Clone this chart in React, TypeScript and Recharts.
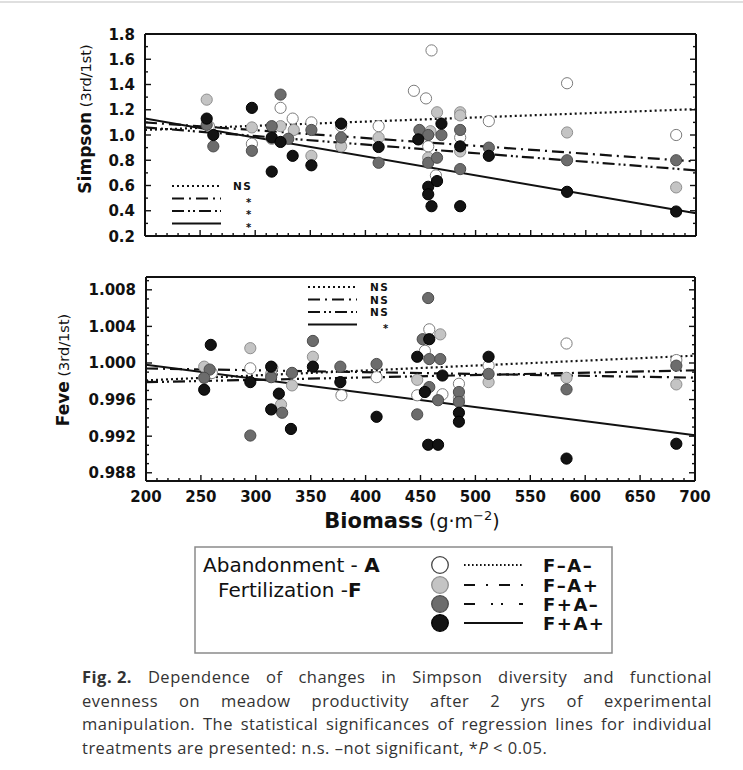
import React from 'react';
import { ComposedChart, Scatter, Line, XAxis, YAxis } from 'recharts';

type Pt = [number, number];

// axis labels
const xMajor = [200, 250, 300, 350, 400, 450, 500, 550, 600, 650, 700];
const simpsonMajor = [0.2, 0.4, 0.6, 0.8, 1.0, 1.2, 1.4, 1.6, 1.8];
const feveMajor = [0.988, 0.992, 0.996, 1.0, 1.004, 1.008];

const treatments = ['F–A–', 'F–A+', 'F+A–', 'F+A+'];
const simpsonSignif = ['NS', '*', '*', '*'];
const feveSignif = ['NS', 'NS', 'NS', '*'];

// Simpson (3rd/1st) vs biomass
const simpsonFmAm: Pt[] = [
  [258, 1.07], [297, 0.93], [323, 1.215], [334, 1.13], [351, 1.1], [378, 1.07], [412, 1.07],
  [444, 1.35], [455, 1.29], [460, 1.67], [457, 0.91], [464, 0.68], [486, 0.98], [512, 1.11],
  [583, 1.41], [682, 1.0],
];
const simpsonFmAp: Pt[] = [
  [256, 1.28], [297, 1.06], [323, 1.07], [315, 0.97], [335, 1.04], [351, 0.835], [378, 0.91],
  [412, 0.98], [465, 1.18], [457, 0.82], [459, 1.03], [486, 1.18], [486, 1.155], [486, 0.87],
  [583, 1.02], [682, 0.585],
];
const simpsonFpAm: Pt[] = [
  [262, 0.91], [256, 1.08], [297, 0.875], [323, 1.32], [315, 1.07], [330, 0.97], [351, 1.04],
  [378, 0.98], [412, 0.78], [449, 1.04], [457, 1.0], [469, 1.0], [457, 0.78], [465, 0.82],
  [486, 1.04], [486, 0.73], [512, 0.9], [583, 0.8], [682, 0.8],
];
const simpsonFpAp: Pt[] = [
  [256, 1.13], [262, 1.0], [297, 1.215], [315, 0.98], [323, 0.945], [315, 0.71], [334, 0.835],
  [351, 0.76], [378, 1.09], [412, 0.905], [448, 0.965], [469, 1.09], [457, 0.59], [457, 0.53],
  [465, 0.635], [460, 0.436], [486, 0.91], [486, 0.436], [512, 0.835], [583, 0.55], [682, 0.394],
];

// Feve (3rd/1st) vs biomass
const feveFmAm: Pt[] = [
  [260, 0.9989], [295, 0.99942], [315, 0.9995], [378, 0.99647], [410, 0.99845], [447, 0.99647],
  [454, 1.00133], [458, 1.00368], [470, 0.99658], [485, 0.99773], [512, 0.99971], [583, 1.00213],
  [683, 1.00032],
];
const feveFmAp: Pt[] = [
  [253, 0.9996], [295, 1.00162], [314, 0.99881], [323, 0.99546], [333, 0.99755], [352, 1.00068],
  [447, 0.99816], [468, 1.00313], [485, 0.9962], [512, 0.99791], [583, 0.99838], [683, 0.99766],
];
const feveFpAm: Pt[] = [
  [258, 0.99928], [253, 0.99838], [295, 0.99207], [314, 0.99845], [324, 0.99456], [333, 0.99892],
  [352, 1.00241], [377, 0.9996], [410, 0.99989], [447, 0.99438], [457, 1.0071], [452, 1.0026],
  [458, 1.00043], [468, 1.00043], [458, 0.99737], [466, 0.99593], [485, 0.99683], [485, 0.99575],
  [512, 0.99881], [583, 0.99712], [683, 0.99971],
];
const feveFpAp: Pt[] = [
  [253, 0.99708], [259, 1.00198], [295, 0.99791], [314, 0.9996], [314, 0.99492], [321, 0.99665],
  [332, 0.99279], [352, 0.9996], [377, 0.99791], [410, 0.99412], [447, 1.00068], [458, 1.0026],
  [470, 0.99863], [454, 0.99683], [457, 0.99106], [466, 0.99106], [485, 0.99456], [485, 0.99358],
  [512, 1.00068], [583, 0.98955], [683, 0.99117],
];

// regression lines, values at biomass 200 and 700
const fitX = [200, 700];
const simpsonFitFmAm = [1.04, 1.205];
const simpsonFitFmAp = [1.1, 0.79];
const simpsonFitFpAm = [1.06, 0.72];
const simpsonFitFpAp = [1.13, 0.38];
const feveFitFmAm = [0.9981, 1.0008];
const feveFitFmAp = [0.9994, 0.9984];
const feveFitFpAm = [0.9979, 0.9992];
const feveFitFpAp = [0.9998, 0.9921];

const FONT = '"DejaVu Sans", sans-serif';
const INK = '#111';

const STYLES = [
  { fill: '#ffffff', stroke: '#7c7c7c', dash: '2 3' },
  { fill: '#c4c4c4', stroke: '#8f8f8f', dash: '12 5 2 5' },
  { fill: '#6c6c6c', stroke: '#4c4c4c', dash: '12 4 2 3 2 4' },
  { fill: '#131313', stroke: '#000000', dash: undefined },
];

const steps = (from: number, to: number, step: number) => {
  const out: number[] = [];
  for (let v = from; v <= to + step / 2; v += step) out.push(Math.round(v * 10000) / 10000);
  return out;
};
const isMajor = (v: number, majors: number[]) => majors.some((m) => Math.abs(m - v) < 1e-7);

const toPoints = (pts: Pt[]) => pts.map(([x, y]) => ({ x, y }));
const toFit = (ys: number[]) => fitX.map((x, i) => ({ x, y: ys[i] }));

const dot = (i: number) => (props: any) => {
  const { cx, cy } = props;
  if (cx == null || cy == null) return <g />;
  return <circle cx={cx} cy={cy} r={5.6} fill={STYLES[i].fill} stroke={STYLES[i].stroke} strokeWidth={1} />;
};

const xTick = (side: 'top' | 'bottom', labels: boolean) => (props: any) => {
  const { x, y, payload } = props;
  const major = isMajor(payload.value, xMajor);
  const len = major ? 6 : 3;
  const dir = side === 'bottom' ? -1 : 1;
  return (
    <g>
      <line x1={x} y1={y} x2={x} y2={y + dir * len} stroke={INK} strokeWidth={1.4} />
      {labels && major && (
        <text x={x} y={y + 21} textAnchor="middle" fontFamily={FONT} fontWeight="bold" fontSize={15} fill={INK}>
          {payload.value}
        </text>
      )}
    </g>
  );
};

const yTick = (side: 'left' | 'right', majors: number[], digits: number) => (props: any) => {
  const { x, y, payload } = props;
  const major = isMajor(payload.value, majors);
  const len = major ? 6 : 3;
  const dir = side === 'left' ? 1 : -1;
  return (
    <g>
      <line x1={x} y1={y} x2={x + dir * len} y2={y} stroke={INK} strokeWidth={1.4} />
      {side === 'left' && major && (
        <text x={x - 10} y={y + 5.5} textAnchor="end" fontFamily={FONT} fontWeight="bold" fontSize={15} fill={INK}>
          {payload.value.toFixed(digits)}
        </text>
      )}
    </g>
  );
};

interface PanelProps {
  series: Pt[][];
  fits: number[][];
  yDomain: [number, number];
  yTicks: number[];
  yMajors: number[];
  digits: number;
  xLabels: boolean;
  top: number;
  height: number;
  margin: { top: number; right: number; bottom: number; left: number };
}

function Panel({ series, fits, yDomain, yTicks, yMajors, digits, xLabels, top, height, margin }: PanelProps) {
  const xTicks = steps(200, 700, 10);
  const axisLine = { stroke: INK, strokeWidth: 2 };
  return (
    <div style={{ position: 'absolute', left: 0, top }}>
      <ComposedChart width={743} height={height} margin={margin}>
        <XAxis xAxisId="b" dataKey="x" type="number" domain={[200, 700]} ticks={xTicks} interval={0}
          height={1} tickSize={0} tickMargin={0} tickLine={false} axisLine={axisLine} tick={xTick('bottom', xLabels)} />
        <XAxis xAxisId="t" orientation="top" dataKey="x" type="number" domain={[200, 700]} ticks={xTicks} interval={0}
          height={1} tickSize={0} tickMargin={0} tickLine={false} axisLine={axisLine} tick={xTick('top', false)} />
        <YAxis yAxisId="l" dataKey="y" type="number" domain={yDomain} allowDataOverflow ticks={yTicks} interval={0}
          width={1} tickSize={0} tickMargin={0} tickLine={false} axisLine={axisLine} tick={yTick('left', yMajors, digits)} />
        <YAxis yAxisId="r" orientation="right" dataKey="y" type="number" domain={yDomain} allowDataOverflow ticks={yTicks}
          interval={0} width={1} tickSize={0} tickMargin={0} tickLine={false} axisLine={axisLine}
          tick={yTick('right', yMajors, digits)} />
        {series.map((pts, i) => (
          <Scatter key={`s${i}`} xAxisId="b" yAxisId="l" data={toPoints(pts)} shape={dot(i)} isAnimationActive={false} />
        ))}
        {fits.map((ys, i) => (
          <Line key={`f${i}`} xAxisId="b" yAxisId="l" data={toFit(ys)} dataKey="y" type="linear" dot={false}
            activeDot={false} stroke={INK} strokeWidth={i === 3 ? 2 : 2.2} strokeDasharray={STYLES[i].dash}
            isAnimationActive={false} />
        ))}
      </ComposedChart>
    </div>
  );
}

function KeyLines({ x, ys, labels, labelX }: { x: number; ys: number[]; labels: string[]; labelX: number }) {
  return (
    <g>
      {ys.map((y, i) => (
        <g key={i}>
          <line x1={x} x2={x + 49} y1={y} y2={y} stroke={INK} strokeWidth={2} strokeDasharray={STYLES[i].dash} />
          <text x={labels[i] === '*' ? labelX + 13 : labelX} y={labels[i] === '*' ? y + 7 : y + 4}
            fontFamily={FONT} fontWeight="bold" fontSize={labels[i] === '*' ? 10 : 10.5} letterSpacing={labels[i] === '*' ? 0 : 1.5}
            fill={INK}>
            {labels[i]}
          </text>
        </g>
      ))}
    </g>
  );
}

export default function App() {
  return (
    <div style={{ position: 'absolute', left: 0, top: 0, width: 743, height: 770, background: '#fff', overflow: 'hidden' }}>
      <Panel
        series={[simpsonFmAm, simpsonFmAp, simpsonFpAm, simpsonFpAp]}
        fits={[simpsonFitFmAm, simpsonFitFmAp, simpsonFitFpAm, simpsonFitFpAp]}
        yDomain={[0.2, 1.8]}
        yTicks={steps(0.2, 1.8, 0.1)}
        yMajors={simpsonMajor}
        digits={1}
        xLabels={false}
        top={0}
        height={262}
        margin={{ top: 33, right: 46, bottom: 25, left: 144 }}
      />
      <Panel
        series={[feveFmAm, feveFmAp, feveFpAm, feveFpAp]}
        fits={[feveFitFmAm, feveFitFmAp, feveFitFpAm, feveFitFpAp]}
        yDomain={[0.9871, 1.0094]}
        yTicks={steps(0.988, 1.009, 0.001)}
        yMajors={feveMajor}
        digits={3}
        xLabels={true}
        top={250}
        height={262}
        margin={{ top: 26, right: 47, bottom: 30, left: 145 }}
      />
      <svg width={743} height={770} style={{ position: 'absolute', left: 0, top: 0, pointerEvents: 'none' }}>
        <line x1={0} x2={743} y1={2} y2={2} stroke="#d4d4d4" strokeWidth={1.5} />
        <text transform="translate(91,119) rotate(-90)" textAnchor="middle" fontFamily={FONT} fill={INK}>
          <tspan fontWeight="bold" fontSize={17}>Simpson</tspan>
          <tspan fontSize={14.5}> (3rd/1st)</tspan>
        </text>
        <text transform="translate(69,370) rotate(-90)" textAnchor="middle" fontFamily={FONT} fill={INK}>
          <tspan fontWeight="bold" fontSize={17}>Feve</tspan>
          <tspan fontSize={14.5}> (3rd/1st)</tspan>
        </text>
        <text x={412} y={528} textAnchor="middle" fontFamily={FONT} fill={INK}>
          <tspan fontWeight="bold" fontSize={21}>Biomass</tspan>
          <tspan fontSize={19}> (g·m</tspan>
          <tspan fontSize={13} dy={-8}>−2</tspan>
          <tspan fontSize={19} dy={8}>)</tspan>
        </text>
        <KeyLines x={172} ys={[186, 198.5, 211, 223.5]} labels={simpsonSignif} labelX={233} />
        <KeyLines x={308} ys={[287, 299.5, 312, 324.5]} labels={feveSignif} labelX={370} />

        <rect x={195} y={547} width={417} height={106} fill="none" stroke="#8a8a8a" strokeWidth={1.5} />
        <text x={203} y={572} fontFamily={FONT} fontSize={20} fill={INK}>
          Abandonment - <tspan fontWeight="bold">A</tspan>
        </text>
        <text x={218} y={597} fontFamily={FONT} fontSize={20} fill={INK}>
          Fertilization -<tspan fontWeight="bold">F</tspan>
        </text>
        {treatments.map((t, i) => {
          const y = [565, 585, 604, 623][i];
          return (
            <g key={t}>
              <circle cx={440} cy={y} r={8.3} fill={STYLES[i].fill} stroke={i === 0 ? '#444' : STYLES[i].stroke} strokeWidth={1.3} />
              <line x1={464} x2={523} y1={y} y2={y} stroke={INK} strokeWidth={1.8}
                strokeDasharray={['1.6 2.4', '11 11 2 11', '11 16 2 8 2 16', undefined][i]} />
              <text x={543} y={y + 7} fontFamily={FONT} fontWeight="bold" fontSize={18} letterSpacing={1.5} fill={INK}>{t}</text>
            </g>
          );
        })}
      </svg>
      <div style={{ position: 'absolute', left: 82, top: 665, width: 630, fontFamily: '"Open Sans", sans-serif', fontSize: 16.5, letterSpacing: 0.5, lineHeight: '23.5px', color: '#333' }}>
        <div style={{ textAlign: 'justify', textAlignLast: 'justify' }}><b style={{ whiteSpace: 'nowrap', display: 'inline-block' }}>Fig. 2.</b> Dependence of changes in Simpson diversity and functional</div>
        <div style={{ textAlign: 'justify', textAlignLast: 'justify' }}>evenness on meadow productivity after 2 yrs of experimental</div>
        <div style={{ textAlign: 'justify', textAlignLast: 'justify' }}>manipulation. The statistical significances of regression lines for individual</div>
        <div>treatments are presented: n.s. –not significant, *<i>P</i> &lt; 0.05.</div>
      </div>
    </div>
  );
}
